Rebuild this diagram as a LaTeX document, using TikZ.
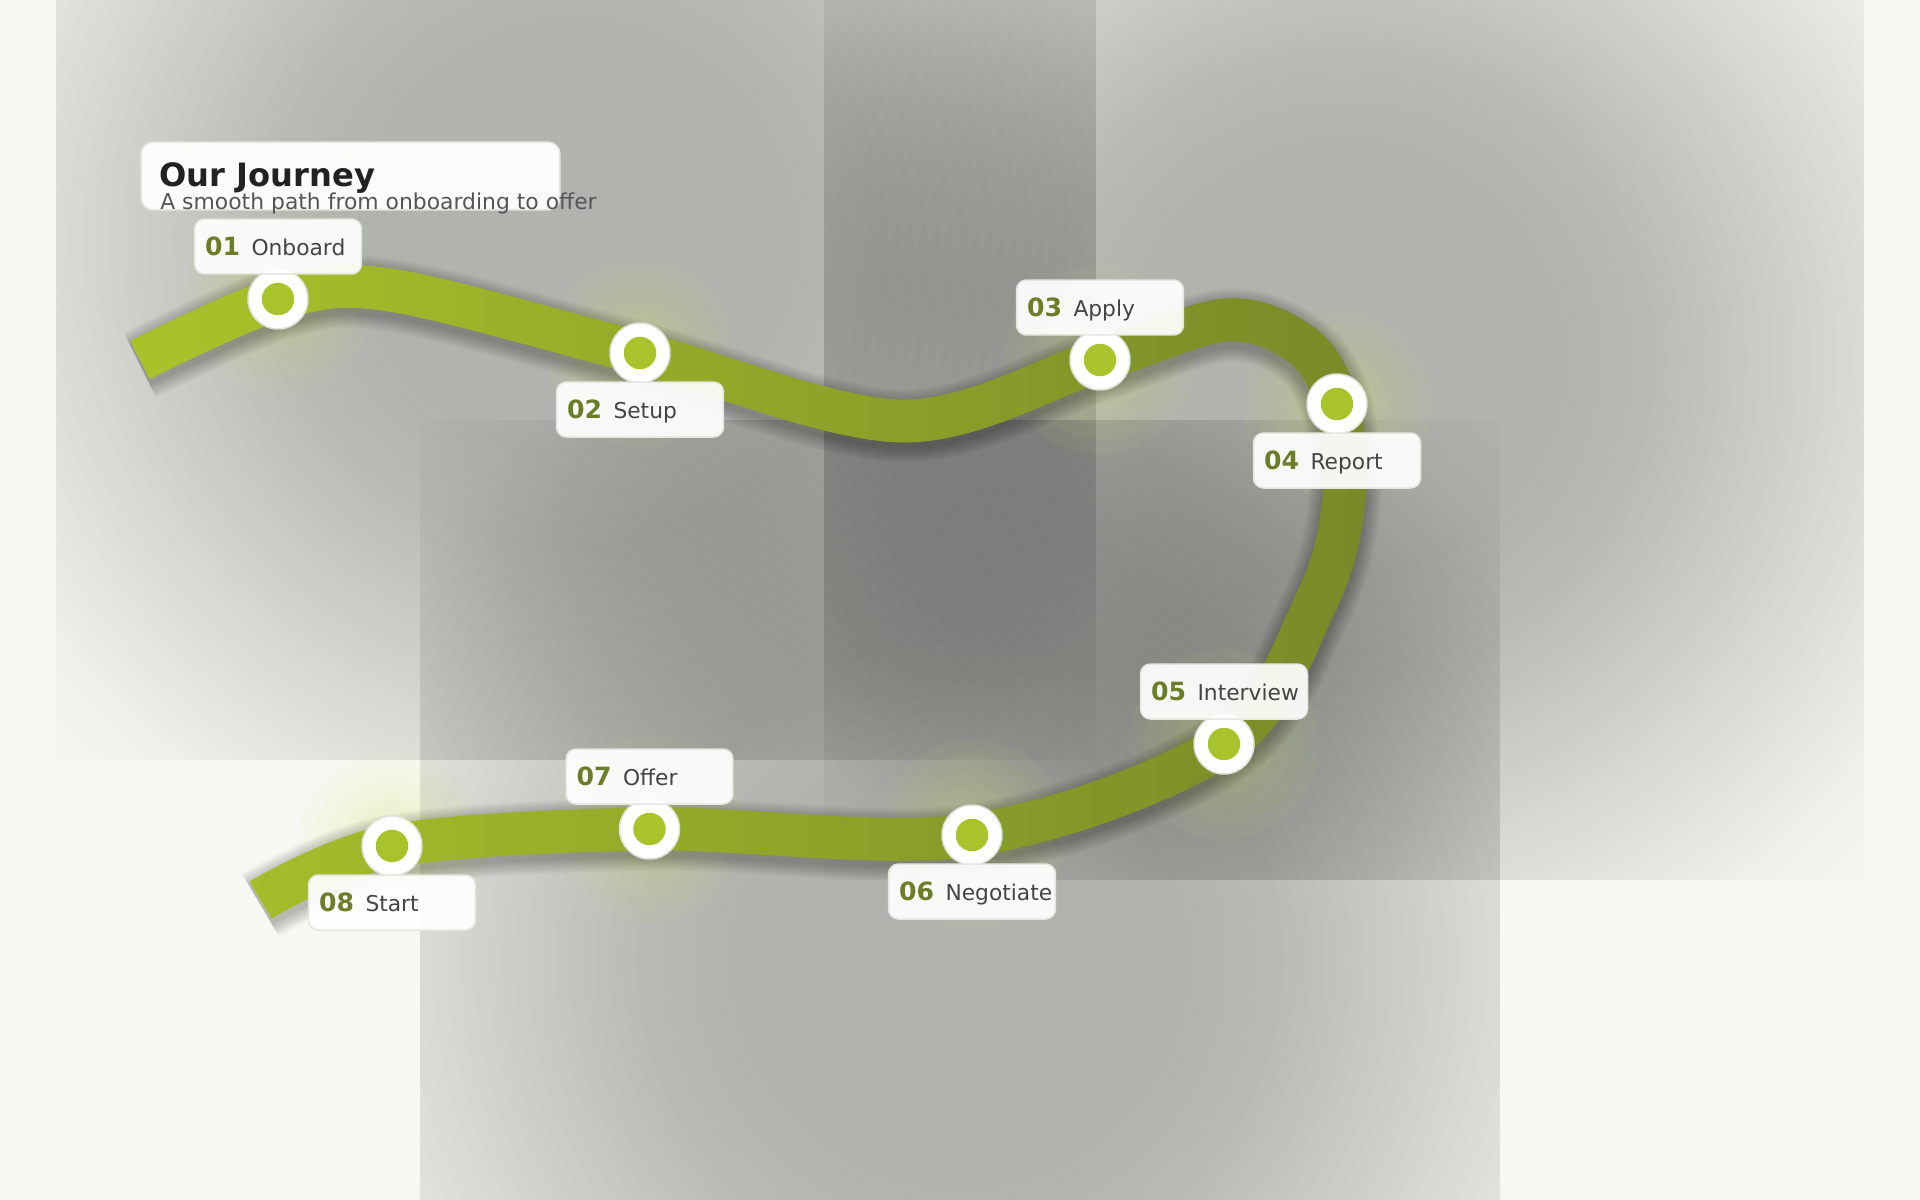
\documentclass[tikz,border=0pt]{standalone}
\usepackage{fontspec}
\setmainfont{DejaVu Sans}
\usetikzlibrary{calc}

\definecolor{bgc}{HTML}{F6F9F3}
\definecolor{pathlight}{HTML}{A9C32A}
\definecolor{pathdark}{HTML}{788A28}
\definecolor{dotc}{HTML}{A9C42B}
\definecolor{numc}{HTML}{6B7D26}
\definecolor{lblc}{HTML}{444444}
\definecolor{ttlc}{HTML}{222222}
\definecolor{subc}{HTML}{555555}
\definecolor{ringc}{HTML}{DDE1D6}
\definecolor{boxline}{HTML}{E4E7DF}
\definecolor{glowc}{HTML}{D6E46A}

\newcommand\jnum{\fontsize{14.3pt}{16pt}\selectfont\bfseries\color{numc}}
\newcommand\jlbl{\fontsize{12.4pt}{14pt}\selectfont\mdseries\color{lblc}}
\newcommand\journeypath{plot[smooth, tension=0.55] coordinates {(s) (p1) (q1) (p2) (q2) (p3) (q3) (q6) (p4) (q4) (q5) (p5) (p6) (p7) (p8) (e)}}
\newcommand\jstep[4]{%
  \node[marker] (m#1) at (p#1) {};
  \node[dot] (d#1) at (p#1) {};
  \node[lbox] (b#1) at ($(p#1)+(0,#4)$) {};
  \node[ltext] (t#1) at ($(b#1.west)+(11,9)$) {{\jnum #2}\hspace{6.5pt}{\jlbl #3}};
}
% soft grey panel: many stacked ellipses clipped to the rectangle (smooth radial darkening)
\newcommand\softpanel[4]{%
  \begin{scope}
    \clip (#1,#2) rectangle (#3,#4);
    \foreach \k in {0,...,44}{
      \pgfmathsetmacro\pr{1.45-0.025*\k}
      \pgfmathsetmacro\ta{min(1,max(0,(\pr-0.35)/1.25))}
      \pgfmathsetmacro\tb{min(1,max(0,(\pr+0.025-0.35)/1.25))}
      \pgfmathsetmacro\Ta{0.245*(1-(3*\ta*\ta-2*\ta*\ta*\ta))}
      \pgfmathsetmacro\Tb{0.245*(1-(3*\tb*\tb-2*\tb*\tb*\tb))}
      \pgfmathsetmacro\pa{1-(1-\Ta)/(1-\Tb)}
      \fill[black, opacity=\pa] ({(#1+#3)/2},{(#2+#4)/2}) ellipse [x radius={\pr*(#3-#1)*0.01cm}, y radius={\pr*(#4-#2)*0.01cm}];
    }
  \end{scope}
}

\begin{document}
\begin{tikzpicture}[x=0.02cm, y=-0.02cm,
  marker/.style={circle, fill=white, draw=ringc, line width=0.03cm, minimum size=1.2cm, inner sep=0pt},
  dot/.style={circle, fill=dotc, minimum size=0.65cm, inner sep=0pt},
  lbox/.style={rectangle, rounded corners=0.2cm, fill=white, fill opacity=0.93, draw=boxline, line width=0.03cm, minimum width=3.34cm, minimum height=1.1cm, inner sep=0pt},
  ltext/.style={anchor=base west, inner sep=0pt},
  tbox/.style={rectangle, rounded corners=0.24cm, fill=white, fill opacity=0.95, draw=boxline, line width=0.03cm, minimum width=8.38cm, minimum height=1.36cm, inner sep=0pt}
]
\useasboundingbox (0,0) rectangle (1920,1200);
\clip (0,0) rectangle (1920,1200);
\fill[bgc] (0,0) rectangle (1920,1200);

% soft grey panels
\softpanel{56}{-281}{1096}{759}
\softpanel{824}{-161}{1864}{879}
\softpanel{420}{420}{1500}{1500}

% path coordinates
\coordinate (s) at (140,360);
\coordinate (p1) at (278,299);
\coordinate (q1) at (390,290);
\coordinate (p2) at (640,353);
\coordinate (q2) at (902,421);
\coordinate (p3) at (1100,360);
\coordinate (q3) at (1227,320);
\coordinate (q6) at (1303,346);
\coordinate (p4) at (1337,404);
\coordinate (q4) at (1344,500);
\coordinate (q5) at (1316,602);
\coordinate (p5) at (1224,744);
\coordinate (p6) at (972,835);
\coordinate (p7) at (649.5,829);
\coordinate (p8) at (392,846);
\coordinate (e) at (260.5,900);

% glows round the markers
\foreach \k in {1,...,8}{
  \foreach \gr in {1.9cm,1.6cm,1.3cm,1.0cm,0.8cm}{
    \fill[glowc, opacity=0.05] (p\k) circle (\gr);
  }
}

% path shadow (soft)
\foreach \w in {0.92,0.98,1.04,1.10,1.16,1.22,1.28,1.34,1.40,1.46}{
  \draw[black, opacity=0.026, line width=\w cm, transform canvas={shift={(0,5)}}] \journeypath;
}

% path with horizontal gradient
\foreach \i in {0,...,41}{
  \pgfmathsetmacro\xa{100+\i*32}
  \pgfmathsetmacro\xb{\xa+33}
  \pgfmathtruncatemacro\pc{min(100,max(0,round((\xa+16-130)/12.4)))}
  \begin{scope}
    \clip (\xa,0) rectangle (\xb,1200);
    \draw[line width=0.86cm, color=pathdark!\pc!pathlight] \journeypath;
  \end{scope}
}

% steps
\jstep{1}{01}{Onboard}{-52.5}
\jstep{2}{02}{Setup}{56.5}
\jstep{3}{03}{Apply}{-52.5}
\jstep{4}{04}{Report}{56.5}
\jstep{5}{05}{Interview}{-52.5}
\jstep{6}{06}{Negotiate}{56.5}
\jstep{7}{07}{Offer}{-52.5}
\jstep{8}{08}{Start}{56.5}

% title card
\node[tbox] (tb) at (350.5,176) {};
\node[anchor=base west, inner sep=0pt] (ttl) at (159,186) {\fontsize{18.3pt}{20pt}\selectfont\bfseries\color{ttlc}Our Journey};
\node[anchor=base west, inner sep=0pt] (sub) at (160,209) {\fontsize{12.45pt}{14pt}\selectfont\color{subc}A smooth path from onboarding to offer};
\end{tikzpicture}
\end{document}
